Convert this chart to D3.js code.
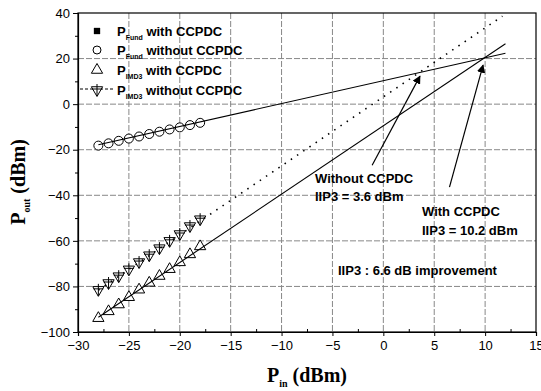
<!DOCTYPE html>
<html>
<head>
<meta charset="utf-8">
<script src="https://cdn.jsdelivr.net/npm/d3@7"></script>
<style>
  body { margin: 0; background: #fff; }
  text { font-family: Arial, "Liberation Sans", sans-serif; fill: #000; }
  .title { font-family: "Times New Roman", "Liberation Serif", serif; font-weight: bold; }
</style>
</head>
<body>
<script>
// input power (dBm) of measured points
const pin = [-28, -27, -26, -25, -24, -23, -22, -21, -20, -19, -18];
const fundWith = [-18.1, -17.1, -16.1, -15.1, -14.1, -13.1, -12.1, -11.1, -10.1, -9.1, -8.2];
const fundWithout = [-18.2, -17.2, -16.1, -15.1, -14.2, -13.1, -12.1, -11.1, -10.2, -9.2, -8.2];
const imdWith = [-93.5, -90.5, -87.5, -84.3, -81, -78, -75, -72, -69, -65.5, -62];
const imdWithout = [-81.5, -78.5, -75.5, -72.5, -69.3, -66.3, -63.2, -60, -57, -53.5, -50.5];

// fitted lines [pin, pout]
const fundFit = [[-28, -17.8], [12, 22.3]];
const imdWithFit = [[-28, -93.5], [12, 26.5]];
const imdWithoutFit = [[-28, -81.6], [11.7, 38.6]];

const xTicks = [-30, -25, -20, -15, -10, -5, 0, 5, 10, 15];
const yTicks = [40, 20, 0, -20, -40, -60, -80, -100];

const width = 541, height = 391;
const margin = { top: 13, right: 5, bottom: 59, left: 78 };

const svg = d3.select('body').append('svg')
  .attr('width', width)
  .attr('height', height);

const x = d3.scaleLinear().domain([-30, 15]).range([margin.left, width - margin.right]);
const y = d3.scaleLinear().domain([-100, 40]).range([height - margin.bottom, margin.top]);

// grid
const grid = svg.append('g')
  .attr('stroke', '#888')
  .attr('stroke-width', 1)
  .attr('stroke-dasharray', '6,2');
grid.selectAll('line.v')
  .data(xTicks.slice(1, -1))
  .join('line')
  .attr('class', 'v')
  .attr('x1', d => x(d)).attr('x2', d => x(d))
  .attr('y1', y(40)).attr('y2', y(-100));
grid.selectAll('line.h')
  .data(yTicks.slice(1, -1))
  .join('line')
  .attr('class', 'h')
  .attr('x1', x(-30)).attr('x2', x(15))
  .attr('y1', d => y(d)).attr('y2', d => y(d));

// axes
svg.append('g')
  .attr('transform', `translate(0,${y(-100)})`)
  .call(d3.axisBottom(x).tickValues(xTicks).tickSize(4).tickPadding(5).tickFormat(d3.format('d')));
svg.append('g')
  .attr('transform', `translate(0,${y(-100)})`)
  .call(d3.axisTop(x).tickValues(d3.range(-27.5, 15, 5)).tickSize(3).tickFormat(''))
  .call(g => g.select('.domain').remove());
svg.append('g')
  .attr('transform', `translate(${x(-30)},0)`)
  .call(d3.axisLeft(y).tickValues(yTicks).tickSize(5).tickPadding(3).tickFormat(d3.format('d')));
svg.append('g')
  .attr('transform', `translate(${x(-30)},0)`)
  .call(d3.axisLeft(y).tickValues(d3.range(-90, 40, 20)).tickSize(3).tickFormat(''))
  .call(g => g.select('.domain').remove());
svg.selectAll('.tick text')
  .attr('font-size', 13)
  .attr('font-family', 'Arial, "Liberation Sans", sans-serif')
  .attr('fill', '#000');
svg.selectAll('.domain').attr('stroke', '#000').attr('stroke-width', 1.2);

// box top / right
svg.append('rect')
  .attr('x', x(-30)).attr('y', y(40))
  .attr('width', x(15) - x(-30)).attr('height', y(-100) - y(40))
  .attr('fill', 'none').attr('stroke', '#000').attr('stroke-width', 1.2);

// markers
const triUp = d3.symbol().type(d3.symbolTriangle).size(55);
const sq = d3.symbol().type(d3.symbolSquare).size(40);

function drawDown(g, cx, cy) {
  g.append('path')
    .attr('d', triUp())
    .attr('transform', `translate(${cx},${cy}) rotate(180)`)
    .attr('fill', '#fff').attr('stroke', '#000').attr('stroke-width', 1);
  g.append('path')
    .attr('d', `M${cx - 5},${cy - 1}H${cx + 5}M${cx},${cy - 6}V${cy + 6}`)
    .attr('stroke', '#000').attr('stroke-width', 1);
}

const pts = svg.append('g');
pts.selectAll('path.sq')
  .data(pin.map((p, i) => [p, fundWith[i]]))
  .join('path').attr('class', 'sq')
  .attr('d', sq)
  .attr('transform', d => `translate(${x(d[0])},${y(d[1])})`)
  .attr('fill', '#000');
pts.selectAll('circle')
  .data(pin.map((p, i) => [p, fundWithout[i]]))
  .join('circle')
  .attr('cx', d => x(d[0])).attr('cy', d => y(d[1])).attr('r', 4.5)
  .attr('fill', '#fff').attr('stroke', '#000').attr('stroke-width', 1);
pts.selectAll('path.up')
  .data(pin.map((p, i) => [p, imdWith[i]]))
  .join('path').attr('class', 'up')
  .attr('d', triUp)
  .attr('transform', d => `translate(${x(d[0])},${y(d[1]) + 1})`)
  .attr('fill', '#fff').attr('stroke', '#000').attr('stroke-width', 1);
pin.forEach((p, i) => drawDown(pts, x(p), y(imdWithout[i])));

// fit lines drawn over the markers
const line = d3.line().x(d => x(d[0])).y(d => y(d[1]));
svg.append('path').datum(fundFit)
  .attr('d', line).attr('fill', 'none').attr('stroke', '#000').attr('stroke-width', 1.1);
svg.append('path').datum(imdWithFit)
  .attr('d', line).attr('fill', 'none').attr('stroke', '#000').attr('stroke-width', 1.1);
svg.append('path').datum(imdWithoutFit)
  .attr('d', line).attr('fill', 'none').attr('stroke', '#000')
  .attr('stroke-width', 1.6).attr('stroke-dasharray', '1.5,6');

// legend
const legend = svg.append('g').attr('font-weight', 'bold');
const legendItems = [
  { sub: 'Fund', txt: ' with CCPDC' },
  { sub: 'Fund', txt: ' without CCPDC' },
  { sub: 'IMD3', txt: ' with CCPDC' },
  { sub: 'IMD3', txt: ' without CCPDC' }
];
const ly = [31, 50, 70, 90];
legendItems.forEach((it, i) => {
  const t = legend.append('text').attr('x', 117).attr('y', ly[i] + 5).attr('font-size', 13);
  t.append('tspan').text('P');
  t.append('tspan').attr('font-size', 7).attr('dy', 4).text(it.sub);
  t.append('tspan').attr('dy', -4).text(it.txt);
});
legend.append('path').attr('d', sq).attr('transform', `translate(97,${ly[0]})`).attr('fill', '#000');
legend.append('circle').attr('cx', 97).attr('cy', ly[1]).attr('r', 4)
  .attr('fill', '#fff').attr('stroke', '#000');
legend.append('path').attr('d', triUp).attr('transform', `translate(97,${ly[2]})`)
  .attr('fill', '#fff').attr('stroke', '#000');
legend.append('line').attr('x1', 80).attr('x2', 113).attr('y1', ly[3] - 1).attr('y2', ly[3] - 1)
  .attr('stroke', '#000').attr('stroke-dasharray', '3,2');
drawDown(legend, 97, ly[3]);

// axis titles
const yt = svg.append('text').attr('class', 'title')
  .attr('transform', 'translate(25,182) rotate(-90)')
  .attr('text-anchor', 'middle').attr('font-size', 20);
yt.append('tspan').text('P');
yt.append('tspan').attr('font-size', 10).attr('dy', 5).text('out');
yt.append('tspan').attr('dy', -5).text(' (dBm)');

const xt = svg.append('text').attr('class', 'title')
  .attr('x', 307).attr('y', 382)
  .attr('text-anchor', 'middle').attr('font-size', 20);
xt.append('tspan').text('P');
xt.append('tspan').attr('font-size', 10).attr('dy', 5).text('in');
xt.append('tspan').attr('dy', -5).text(' (dBm)');

// annotations
const ann = svg.append('g').attr('font-weight', 'bold').attr('font-size', 13);
ann.append('text').attr('x', 315).attr('y', 183).text('Without CCPDC');
ann.append('text').attr('x', 315).attr('y', 201).text('IIP3 = 3.6 dBm');
ann.append('text').attr('x', 422).attr('y', 216).text('With CCPDC');
ann.append('text').attr('x', 422).attr('y', 235).text('IIP3 = 10.2 dBm');
ann.append('text').attr('x', 338).attr('y', 275).text('IIP3 : 6.6 dB improvement');

svg.append('defs').append('marker')
  .attr('id', 'arrow')
  .attr('viewBox', '0 0 10 10')
  .attr('refX', 9).attr('refY', 5)
  .attr('markerWidth', 7).attr('markerHeight', 7)
  .attr('orient', 'auto')
  .append('path').attr('d', 'M0,0L10,5L0,10z').attr('fill', '#000');

const arrows = [
  [[-1.1, -26.8], [3.6, 12.3]],
  [[6.5, -36.4], [9.8, 17.1]]
];
svg.selectAll('line.arrow')
  .data(arrows)
  .join('line').attr('class', 'arrow')
  .attr('x1', d => x(d[0][0])).attr('y1', d => y(d[0][1]))
  .attr('x2', d => x(d[1][0])).attr('y2', d => y(d[1][1]))
  .attr('stroke', '#000').attr('stroke-width', 1.2)
  .attr('marker-end', 'url(#arrow)');
</script>
</body>
</html>
